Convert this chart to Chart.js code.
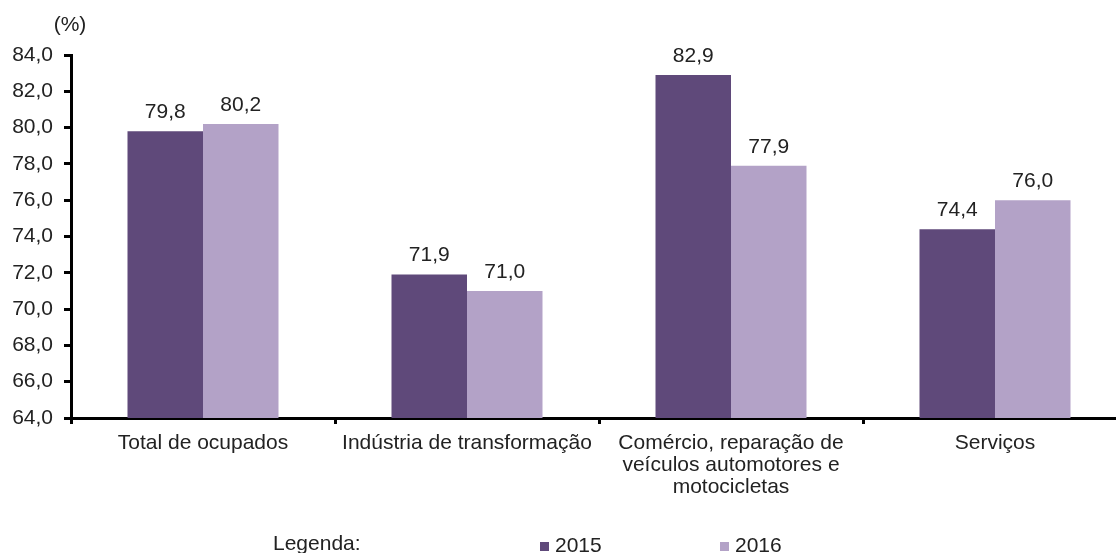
<!DOCTYPE html>
<html lang="pt">
<head>
<meta charset="UTF-8">
<title>Ocupados por atividade</title>
<style>
  html, body { margin: 0; padding: 0; overflow: hidden; background: #fff; }
  #wrap { width: 1127px; height: 553px; position: relative; }
</style>
</head>
<body>
<div id="wrap"><canvas id="myChart"></canvas></div>
<script src="https://cdn.jsdelivr.net/npm/chart.js@4.4.2/dist/chart.umd.min.js"></script>
<script>
const categories = [
  'Total de ocupados',
  'Indústria de transformação',
  ['Comércio, reparação de', 'veículos automotores e', 'motocicletas'],
  'Serviços'
];
const seriesNames = ['2015', '2016'];
const values2015 = [79.8, 71.9, 82.9, 74.4];
const values2016 = [80.2, 71.0, 77.9, 76.0];
const yMin = 64, yMax = 84, yStep = 2;

const FONT = '"Liberation Sans", Arial, sans-serif';
const TEXT = '#222';
const fmt = v => v.toFixed(1).replace('.', ',');

// value labels, unit label and the "Legenda" row
const extras = {
  id: 'extras',
  afterDatasetsDraw(chart) {
    const ctx = chart.ctx;
    ctx.save();
    ctx.font = '21px ' + FONT;
    ctx.fillStyle = TEXT;
    ctx.textAlign = 'center';
    ctx.textBaseline = 'middle';
    chart.data.datasets.forEach((ds, i) => {
      chart.getDatasetMeta(i).data.forEach((bar, j) => {
        ctx.fillText(fmt(ds.data[j]), bar.x, bar.y - 19);
      });
    });
    ctx.fillText('(%)', 70, 25);

    ctx.textAlign = 'left';
    ctx.fillText('Legenda:', 273, 544);
    const legendX = [540, 720];
    chart.data.datasets.forEach((ds, i) => {
      ctx.fillStyle = ds.backgroundColor;
      ctx.fillRect(legendX[i], 542, 9, 9);
      ctx.fillStyle = TEXT;
      ctx.fillText(ds.label, legendX[i] + 15, 546);
    });
    ctx.restore();
  }
};

new Chart(document.getElementById('myChart'), {
  type: 'bar',
  data: {
    labels: categories,
    datasets: [
      { label: seriesNames[0], data: values2015, backgroundColor: '#5F497A' },
      { label: seriesNames[1], data: values2016, backgroundColor: '#B3A2C7' }
    ]
  },
  options: {
    responsive: true,
    maintainAspectRatio: false,
    animation: false,
    layout: { padding: { top: 55, left: 0, right: 0, bottom: 0 } },
    datasets: {
      bar: { categoryPercentage: 0.572, barPercentage: 1.0 }
    },
    plugins: {
      legend: { display: false },
      tooltip: { enabled: false }
    },
    scales: {
      x: {
        afterFit(scale) { scale.height = 135; },
        grid: { drawOnChartArea: false, offset: true, tickLength: 6, tickColor: '#000', tickWidth: 3 },
        border: { color: '#000', width: 3 },
        ticks: {
          color: TEXT,
          padding: 8,
          maxRotation: 0,
          autoSkip: false,
          font: { family: FONT, size: 21, lineHeight: 1.05 }
        }
      },
      y: {
        min: yMin,
        max: yMax,
        afterFit(scale) { scale.width = 71; },
        grid: { drawOnChartArea: false, tickLength: 7, tickColor: '#000', tickWidth: 3 },
        border: { color: '#000', width: 3 },
        ticks: {
          stepSize: yStep,
          color: TEXT,
          padding: 11,
          font: { family: FONT, size: 21 },
          callback: v => fmt(v)
        }
      }
    }
  },
  plugins: [extras]
});
</script>
</body>
</html>
